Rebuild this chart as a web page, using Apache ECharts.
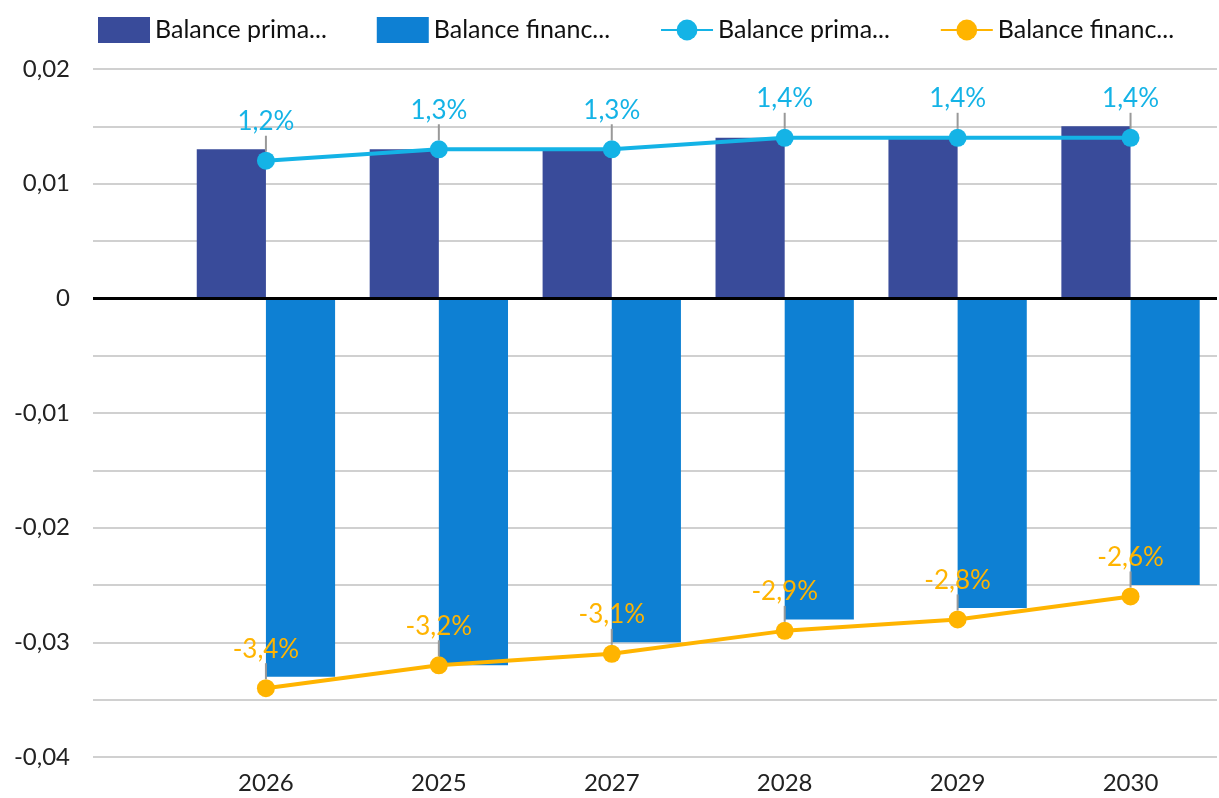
<!DOCTYPE html>
<html>
<head>
<meta charset="utf-8">
<script src="https://cdn.jsdelivr.net/npm/echarts@6/dist/echarts.min.js"></script>
<style>html,body{margin:0;padding:0;background:#fff}#c{width:1219px;height:798px}</style>
</head>
<body>
<div id="c"></div>
<script>
const years = ['2026', '2025', '2027', '2028', '2029', '2030'];
const primarioBar = [0.013, 0.013, 0.013, 0.014, 0.014, 0.015];
const financieroBar = [-0.033, -0.032, -0.030, -0.028, -0.027, -0.025];
const primarioLine = [0.012, 0.013, 0.013, 0.014, 0.014, 0.014];
const financieroLine = [-0.034, -0.032, -0.031, -0.029, -0.028, -0.026];
const seriesNames = ['Balance primario (mill.)', 'Balance financiero (mill.)', 'Balance primario (% PIB)', 'Balance financiero (% PIB)'];

const C_BAR1 = '#394B9A', C_BAR2 = '#0E80D3', C_LINE1 = '#14B3E6', C_LINE2 = '#FFB400';
const FONT = 'Lato';

function pct(v) { return (v * 100).toFixed(1).replace('.', ',') + '%'; }
function yFmt(v) {
  const m = Math.round(v * 1000);
  if (m % 10 !== 0) return '';
  if (m === 0) return '0';
  return (m / 1000).toFixed(2).replace('.', ',');
}
function pairs(arr) { return arr.map((v, i) => [i, v]); }
function lineLabel(color) {
  return {
    show: true, position: 'top', distance: 0,
    formatter: p => '{v|' + pct(p.value[1]) + '}\n{l|}',
    rich: {
      v: { fontSize: 26, fontFamily: FONT, color: color, lineHeight: 28 },
      l: { width: 2, height: 16, backgroundColor: '#999999' }
    }
  };
}

const chart = echarts.init(document.getElementById('c'), null, { renderer: 'canvas' });
chart.setOption({
  animation: false,
  legend: {
    top: 12, left: 93, itemWidth: 52, itemHeight: 26, itemGap: 50,
    textStyle: { fontSize: 25, fontFamily: FONT, color: '#111', width: 178, overflow: 'truncate', ellipsis: '...' },
    data: [
      { name: seriesNames[0], icon: 'rect' },
      { name: seriesNames[1], icon: 'rect' },
      { name: seriesNames[2] },
      { name: seriesNames[3] }
    ]
  },
  grid: { left: 93, right: 2, top: 69, bottom: 41, containLabel: false },
  xAxis: {
    type: 'value', min: -1, max: 5.5, interval: 1,
    axisLine: { show: false, onZero: false }, axisTick: { show: false }, splitLine: { show: false },
    axisLabel: {
      margin: 14, fontSize: 24, fontFamily: FONT, color: '#222',
      showMinLabel: false, showMaxLabel: false,
      formatter: v => (Number.isInteger(v) && years[v] !== undefined) ? years[v] : ''
    }
  },
  yAxis: {
    type: 'value', min: -0.04, max: 0.02, interval: 0.005,
    axisLine: { show: false }, axisTick: { show: false },
    splitLine: { lineStyle: { color: '#D0D0D0', width: 2 } },
    axisLabel: { margin: 23, fontSize: 24, fontFamily: FONT, color: '#222', formatter: yFmt }
  },
  series: [
    {
      name: seriesNames[0], type: 'bar', data: pairs(primarioBar),
      barGap: '0%', barCategoryGap: '20%',
      itemStyle: { color: C_BAR1 },
      markLine: {
        silent: true, symbol: 'none', label: { show: false },
        lineStyle: { color: '#000', width: 3, type: 'solid' },
        data: [{ yAxis: 0 }]
      }
    },
    {
      name: seriesNames[1], type: 'bar', data: pairs(financieroBar),
      barGap: '0%', barCategoryGap: '20%',
      itemStyle: { color: C_BAR2 }
    },
    {
      name: seriesNames[2], type: 'line', data: pairs(primarioLine), z: 5,
      symbol: 'circle', symbolSize: 18,
      lineStyle: { color: C_LINE1, width: 4 }, itemStyle: { color: C_LINE1 },
      label: lineLabel(C_LINE1)
    },
    {
      name: seriesNames[3], type: 'line', data: pairs(financieroLine), z: 5,
      symbol: 'circle', symbolSize: 18,
      lineStyle: { color: C_LINE2, width: 4 }, itemStyle: { color: C_LINE2 },
      label: lineLabel(C_LINE2)
    }
  ]
});
</script>
</body>
</html>
